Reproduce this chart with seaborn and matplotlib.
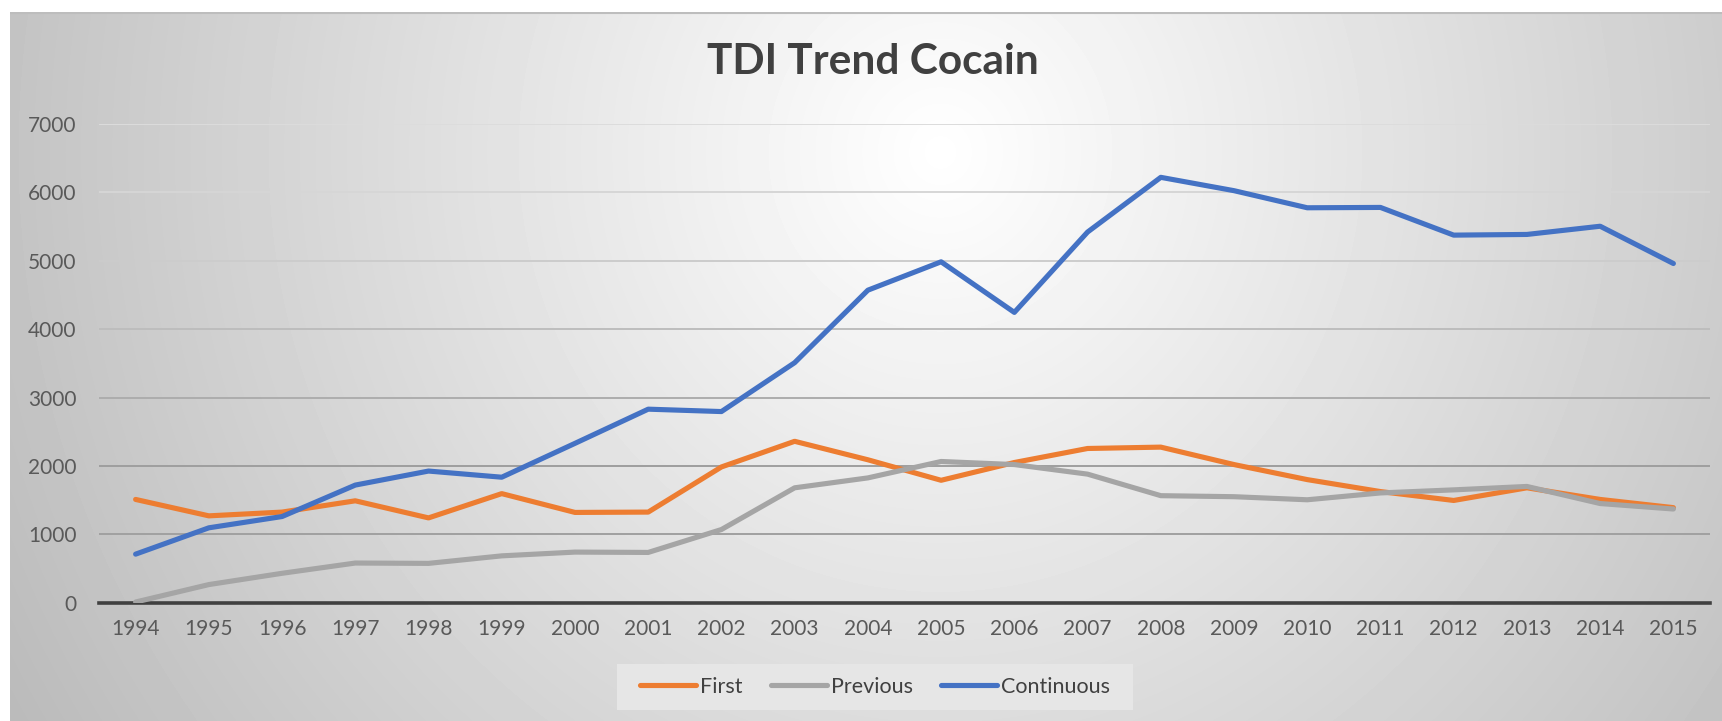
import numpy as np
import pandas as pd
import seaborn as sns
import matplotlib.pyplot as plt
from matplotlib.patches import Rectangle
from matplotlib.lines import Line2D

# valores
years = list(range(1994, 2016))
first = [1510, 1270, 1325, 1490, 1240, 1595, 1320, 1325, 1985, 2360, 2090,
         1790, 2050, 2255, 2275, 2020, 1800, 1625, 1495, 1680, 1510, 1390]
previous = [10, 265, 430, 580, 575, 685, 740, 735, 1070, 1680, 1825,
            2065, 2020, 1880, 1565, 1550, 1505, 1605, 1650, 1700, 1450, 1370]
continuous = [710, 1095, 1260, 1720, 1925, 1835, 2330, 2830, 2795, 3510, 4570,
              4985, 4245, 5420, 6220, 6025, 5775, 5780, 5375, 5385, 5505, 4960]
series_names = ["First", "Previous", "Continuous"]
series_colors = ["#ED7D31", "#A5A5A5", "#4472C4"]

df = pd.DataFrame({
    "Year": years * 3,
    "Count": first + previous + continuous,
    "Series": [s for s in series_names for _ in years],
})

sns.set_theme(style="white")
plt.rcParams['font.family'] = ['Lato', 'DejaVu Sans']

W, H = 1722, 721
fig = plt.figure(figsize=(W / 100, H / 100), dpi=100)
fig.patch.set_facecolor("white")

# fondo con degradado radial (estilo Excel)
bg = fig.add_axes([10 / W, 0, 1 - 10 / W, 1 - 12 / H], zorder=0)
h, w = H - 12, W - 10
yy, xx = np.mgrid[0:h, 0:w]
d = np.sqrt(((xx - 930) / 960) ** 2 + ((yy - 140) / 1000) ** 2)
v = 1 - 0.24 * np.clip(d, 0, 1.3)
bg.imshow(v, cmap="gray", vmin=0, vmax=1, aspect="auto", interpolation="bilinear")
bg.plot([-0.5, w], [0.5, 0.5], color="#bdbdbd", lw=1.5)
bg.set_xlim(-0.5, w - 0.5)
bg.set_ylim(h - 0.5, -0.5)
bg.set_axis_off()

ax = fig.add_axes([99 / W, 1 - 602.7 / H, (1710 - 99) / W, (602.7 - 124) / H], zorder=1)
ax.patch.set_alpha(0)

sns.lineplot(data=df, x="Year", y="Count", hue="Series", hue_order=series_names,
             palette=series_colors, linewidth=3.7, ax=ax,
             solid_joinstyle="round", solid_capstyle="round")

ax.set_xlim(1993.5, 2015.5)
ax.set_ylim(0, 7000)
ax.set_xticks(years)
ax.set_yticks(range(0, 7001, 1000))
ax.set_xlabel("")
ax.set_ylabel("")

ax.yaxis.grid(True, linewidth=1.4)
grid_colors = ["#404040", "#a0a0a0", "#9e9e9e", "#adadad", "#bdbdbd", "#cccccc", "#d6d6d6", "#dcdcdc"]
for gl, c in zip(ax.get_ygridlines(), grid_colors):
    gl.set_color(c)
ax.set_axisbelow(True)

for side in ["top", "right", "left"]:
    ax.spines[side].set_visible(False)
ax.spines["bottom"].set_color("#404040")
ax.spines["bottom"].set_linewidth(2.6)
ax.spines["bottom"].set_zorder(0.5)

ax.tick_params(axis="both", length=0, labelsize=15, colors="#595959")
ax.tick_params(axis="x", pad=12)
ax.tick_params(axis="y", pad=16)

fig.text(873 / W, 1 - 62 / H, "TDI Trend Cocain", ha="center", va="center",
         fontsize=30.5, fontweight="bold", color="#404040")

# leyenda abajo
fig.patches.append(Rectangle((617 / W, 1 - 710 / H), (1133 - 617) / W, 46 / H,
                             transform=fig.transFigure, facecolor="#e6e6e6",
                             edgecolor="none", zorder=1))
handles = [Line2D([0], [0], color=c, lw=3.7, solid_capstyle="round") for c in series_colors]
ax.get_legend().remove()
leg = fig.legend(handles, series_names, loc="center", bbox_to_anchor=(875 / W, 1 - 687 / H),
                 ncol=3, frameon=False, fontsize=15.5, handlelength=2.6,
                 handletextpad=0.2, columnspacing=1.3, labelcolor="#404040")
leg.set_zorder(2)

plt.savefig("out.png", dpi=100, facecolor=fig.get_facecolor())
